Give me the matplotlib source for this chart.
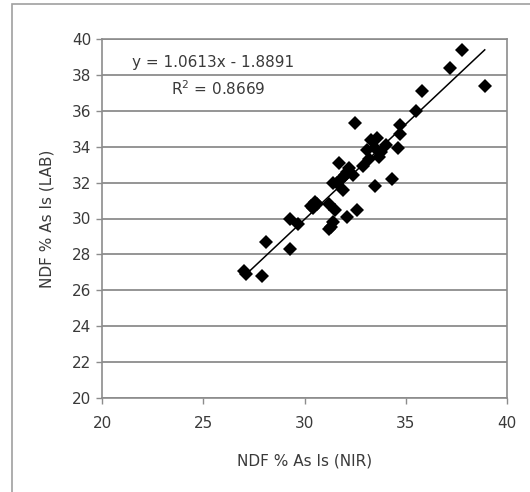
import numpy as np
import matplotlib.pyplot as plt
import matplotlib.patches as patches

# NDF % As Is: NIR prediction vs lab value
nir = [27.0, 27.1, 27.9, 28.1, 29.3, 29.3, 29.7, 30.3, 30.5, 30.6, 30.4,
       31.2, 31.5, 31.3, 31.2, 31.4, 32.1, 32.6, 33.5, 34.3, 32.5,
       31.7, 31.4, 31.9, 32.0, 32.2, 32.4, 31.8, 31.6, 32.1,
       32.9, 33.1, 33.3, 33.6, 33.8, 34.0, 33.7, 33.5, 33.2,
       34.6, 34.7, 34.7, 35.5, 35.8, 37.2, 37.8, 38.9]
lab = [27.1, 26.9, 26.8, 28.7, 28.3, 30.0, 29.7, 30.7, 30.9, 30.8, 30.6,
       30.8, 30.5, 29.5, 29.4, 29.8, 30.1, 30.5, 31.8, 32.2, 35.3,
       33.1, 32.0, 31.6, 32.4, 32.8, 32.4, 32.2, 32.0, 32.6,
       32.9, 33.8, 34.4, 34.5, 33.7, 34.1, 33.4, 33.9, 33.3,
       33.9, 34.7, 35.2, 36.0, 37.1, 38.4, 39.4, 37.4]

slope = 1.0613
intercept = -1.8891
r2 = 0.8669

x_ticks = [20, 25, 30, 35, 40]
y_ticks = list(range(20, 41, 2))

txt = '#3a3a3a'
gridc = '#8c8c8c'

fig = plt.figure(figsize=(5.3, 4.92), dpi=100)
fig.patches.append(patches.Rectangle((12 / 530, -0.05), 1.2, 1.05 - 4 / 492,
                                     transform=fig.transFigure, fill=False,
                                     edgecolor='#a0a0a0', linewidth=1.2))

ax = fig.add_axes([102 / 530, 1 - 398 / 492, 405 / 530, 359 / 492])
ax.set_xlim(20, 40)
ax.set_ylim(20, 40)
ax.set_xticks(x_ticks)
ax.set_yticks(y_ticks)

ax.yaxis.grid(True, color=gridc, linewidth=1.3)
ax.set_axisbelow(True)
for s in ax.spines.values():
    s.set_color(gridc)
    s.set_linewidth(1.2)

ax.tick_params(colors=gridc, labelcolor=txt, labelsize=11, length=4, width=1)
ax.tick_params(axis='x', pad=9)

# trendline over the range of the data
xs = np.array([min(nir), max(nir)])
ax.plot(xs, slope * xs + intercept, color='black', linewidth=1.1)

ax.plot(nir, lab, linestyle='none', marker='D', markersize=7,
        color='black', markeredgewidth=0)

ax.text(0.075, 0.935, 'y = %.4fx - %.4f' % (slope, -intercept), transform=ax.transAxes,
        fontsize=11, color=txt, va='center', ha='left')
ax.text(0.17, 0.862, 'R$^2$ = %.4f' % r2, transform=ax.transAxes,
        fontsize=11, color=txt, va='center', ha='left')

ax.set_xlabel('NDF % As Is (NIR)', fontsize=11, color=txt, labelpad=16)
ax.set_ylabel('NDF % As Is (LAB)', fontsize=11, color=txt, labelpad=13)

fig.savefig('out.png', dpi=100)
